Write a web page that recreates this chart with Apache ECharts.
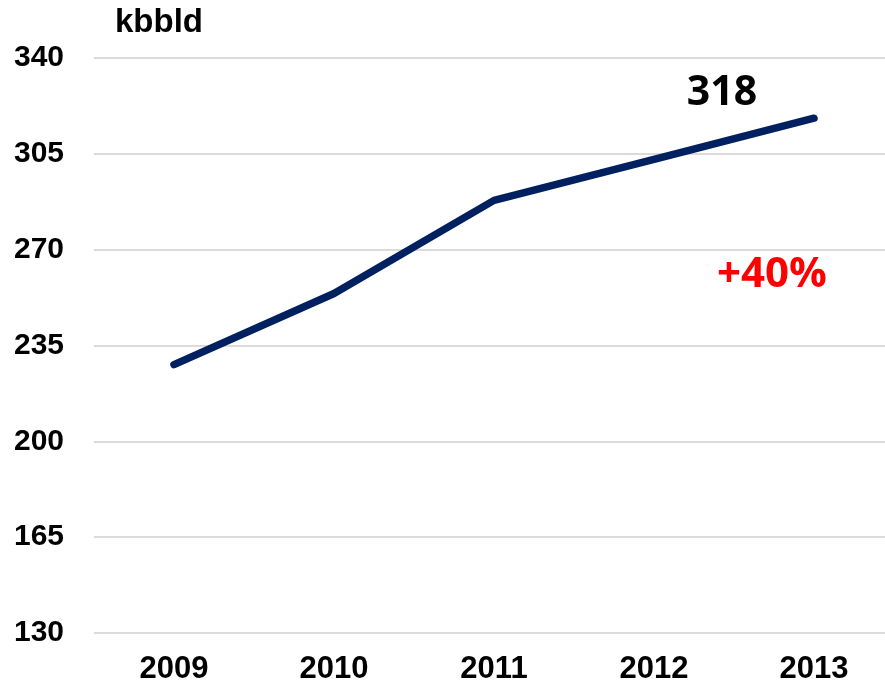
<!DOCTYPE html>
<html>
<head>
<meta charset="utf-8">
<script src="https://cdn.jsdelivr.net/npm/echarts@6/dist/echarts.min.js"></script>
<style>
  html, body { margin: 0; padding: 0; background: #fff; overflow: hidden; }
  /* plot runs a little past the right edge of the window, as in the source */
  #chart { width: 894px; height: 687px; }
</style>
</head>
<body>
<div id="chart"></div>
<script>
// data
var years = ['2009', '2010', '2011', '2012', '2013'];
var volume = [228, 254, 288, 303, 318];
var yMin = 130, yMax = 340, yStep = 35;
var unitName = 'kbbld';
var growthText = '+40%';

var chart = echarts.init(document.getElementById('chart'));

chart.setOption({
    animation: false,
    grid: {
        left: 94,
        right: 0,
        top: 58,
        bottom: 54,
        containLabel: false
    },
    xAxis: {
        type: 'category',
        data: years,
        boundaryGap: true,
        axisLine: { show: false },
        axisTick: { show: false },
        axisLabel: {
            margin: 21,
            color: '#000',
            fontFamily: 'Liberation Sans, Arial',
            fontWeight: 'bold',
            fontSize: 31
        }
    },
    yAxis: {
        type: 'value',
        min: yMin,
        max: yMax,
        interval: yStep,
        axisLine: { show: false },
        axisTick: { show: false },
        splitLine: { lineStyle: { color: '#cfcfcf', width: 1.5 } },
        axisLabel: {
            margin: 30,
            color: '#000',
            fontFamily: 'Liberation Sans, Arial',
            fontWeight: 'bold',
            fontSize: 30
        }
    },
    series: [{
        type: 'line',
        data: volume.map(function (v, i) {
            if (i !== volume.length - 1) return v;
            // value label of the last year
            return {
                value: v,
                label: {
                    show: true,
                    position: 'top',
                    offset: [-92, 1],
                    color: '#000',
                    fontFamily: 'Open Sans',
                    fontWeight: 'bold',
                    fontSize: 41
                }
            };
        }),
        symbol: 'circle',
        symbolSize: 1,
        showSymbol: true,
        itemStyle: { color: '#002060' },
        lineStyle: { color: '#002060', width: 7.5, cap: 'round', join: 'round' }
    }],
    graphic: [
        {
            type: 'text',
            left: 115,
            top: 6,
            style: {
                text: unitName,
                fill: '#000',
                font: 'bold 33px "Liberation Sans", Arial'
            }
        },
        {
            type: 'text',
            left: 717,
            top: 254,
            style: {
                text: growthText,
                fill: '#ff0000',
                font: 'bold 42px "Open Sans"'
            }
        }
    ]
});
</script>
</body>
</html>
